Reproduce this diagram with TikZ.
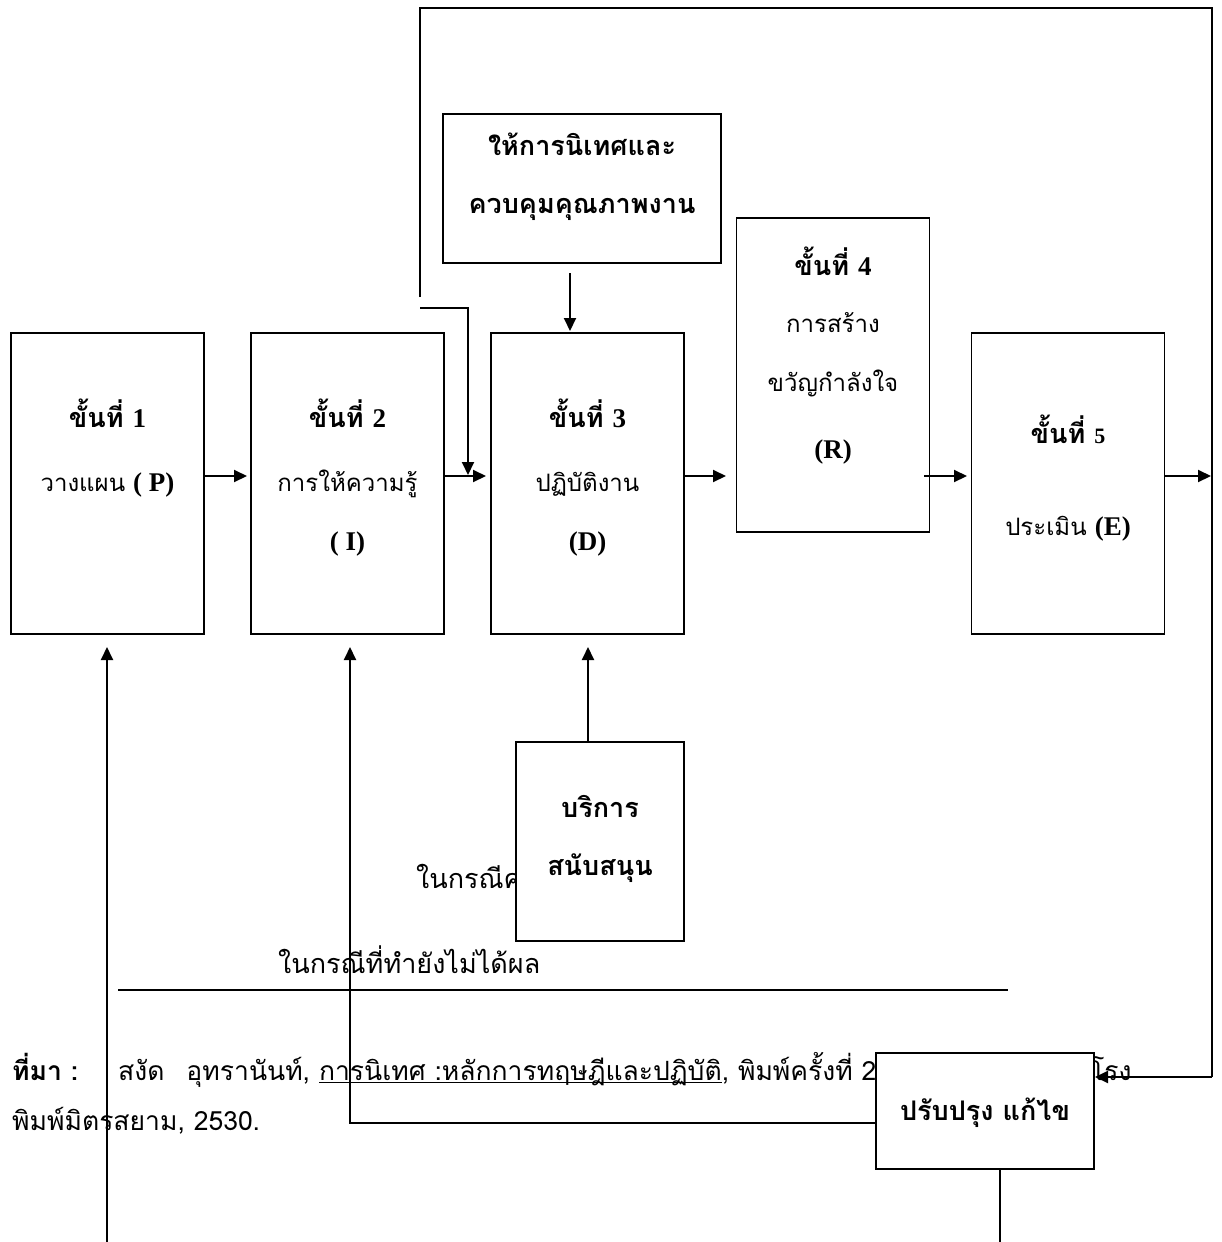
\documentclass[tikz,border=0pt]{standalone}
\usepackage{fontspec}
\usetikzlibrary{arrows.meta}
\newfontfamily\boxfont[Script=Thai]{Loma}
\newfontfamily\notefont[Script=Thai]{Loma}
\newfontfamily\lat{Liberation Serif}
% Latin letters and digits inside the boxes, set in a serif
\newcommand\latb[1]{{\lat\bfseries\fontsize{27}{30}\selectfont #1}}
% underline drawn as a rule that crosses the Thai descenders
\newcommand\thaiul[1]{\setbox0\hbox{#1}\rlap{\rule[-3pt]{\wd0}{1.3pt}}\box0}
\begin{document}
\begin{tikzpicture}[x=1pt,y=-1pt,
  stage/.style={draw,line width=1.6pt,fill=white,inner sep=0pt,
                minimum width=193pt,minimum height=301pt},
  panel/.style={draw,line width=1.6pt,fill=white,inner sep=0pt},
  lbl/.style={anchor=base,inner sep=0pt,font=\boxfont\fontsize{24}{28}\selectfont},
  blbl/.style={lbl,font=\boxfont\bfseries\fontsize{27}{30}\selectfont},
  note/.style={anchor=base west,inner sep=0pt,font=\boxfont\fontsize{27}{30}\selectfont},
  ref/.style={anchor=base west,inner sep=0pt,font=\notefont\fontsize{26.5}{30}\selectfont},
  link/.style={line width=2pt,-{Triangle[length=13pt,width=12pt]}},
  plain/.style={line width=2pt}]
\useasboundingbox[fill=white] (0,0) rectangle (1222,1242);

% notes that sit behind the boxes
\node[note] (n1) at (416,888) {ในกรณีคุณภาพไม่ผ่าน};
\node[note] (n2) at (278,973) {ในกรณีที่ทำยังไม่ได้ผล};
\draw[plain] (118,990) -- (1008,990);

% source line
\node[ref] (src1) at (12,1080) {\bfseries ที่มา :};
\node[ref] (src2) at (118,1080) {สงัด\hspace{22pt}อุทรานันท์, \thaiul{การนิเทศ :หลักการทฤษฎีและปฏิบัติ}, พิมพ์ครั้งที่ 2. กรุงเทพมหานคร:โรง};
\node[ref] (src3) at (12,1130) {พิมพ์มิตรสยาม, 2530.};

% stages
\node[stage] (b1) at (107.5,483.5) {};
\node[stage] (b2) at (347.5,483.5) {};
\node[stage] (b3) at (587.5,483.5) {};
\node[stage,minimum height=314pt] (b4) at (833,375) {};
\node[stage] (b5) at (1068,483.5) {};
\node[panel,minimum width=278pt,minimum height=149pt] (sup) at (582,188.5) {};
\node[panel,minimum width=168pt,minimum height=199pt] (svc) at (600,841.5) {};
\node[panel,line width=2pt,minimum width=218pt,minimum height=116pt] (imp) at (985,1111) {};

% stage texts
\node[blbl] (t1a) at (107.5,427) {ขั้นที่ \latb{1}};
\node[lbl]  (t1b) at (107.5,491) {วางแผน \latb{( P)}};
\node[blbl] (t2a) at (347.5,427) {ขั้นที่ \latb{2}};
\node[lbl]  (t2b) at (347.5,491) {การให้ความรู้};
\node[blbl] (t2c) at (347.5,550) {\latb{( I)}};
\node[blbl] (t3a) at (587.5,427) {ขั้นที่ \latb{3}};
\node[lbl]  (t3b) at (587.5,491) {ปฏิบัติงาน};
\node[blbl] (t3c) at (587.5,550) {\latb{(D)}};
\node[blbl] (t4a) at (833,275) {ขั้นที่ \latb{4}};
\node[lbl]  (t4b) at (833,332) {การสร้าง};
\node[lbl]  (t4c) at (833,391) {ขวัญกำลังใจ};
\node[blbl] (t4d) at (833,458) {\latb{(R)}};
\node[blbl] (t5a) at (1068,443) {ขั้นที่ {\lat\bfseries\fontsize{22}{26}\selectfont 5}};
\node[lbl]  (t5b) at (1068,535) {ประเมิน \latb{(E)}};
\node[blbl] (tsa) at (582,155) {ให้การนิเทศและ};
\node[blbl] (tsb) at (582,213) {ควบคุมคุณภาพงาน};
\node[blbl] (tva) at (600,817) {บริการ};
\node[blbl] (tvb) at (600,875) {สนับสนุน};
\node[blbl] (tia) at (985,1120) {ปรับปรุง แก้ไข};

% main flow
\draw[link] (b1.east |- 0,476) -- (247,476);
\draw[link] (b2.east |- 0,476) -- (486,476);
\draw[link] (b3.east |- 0,476) -- (726,476);
\draw[link] (924,476) -- (967,476);
\draw[link] (b5.east |- 0,476) -- (1211,476);

% supervision and support
\draw[link] (570,273) -- (570,331);
\draw[link] (svc.north -| 588,0) -- (588,647);

% feedback loop from evaluation
\draw[plain] (420,297) -- (420,8) -- (1212,8) -- (1212,1077);
\draw[link] (1212,1077) -- (imp.east |- 0,1077);
\draw[link] (420,308) -- (468,308) -- (468,475);

% revision paths back to the earlier stages
\coordinate (low1) at (107,1242);
\coordinate (low2) at (1000,1242);
\draw[link] (low1) -- (107,647);
\draw[link] (imp.west |- 0,1123) -- (350,1123) -- (350,647);
\draw[plain] (imp.south -| low2) -- (low2);
\end{tikzpicture}
\end{document}
